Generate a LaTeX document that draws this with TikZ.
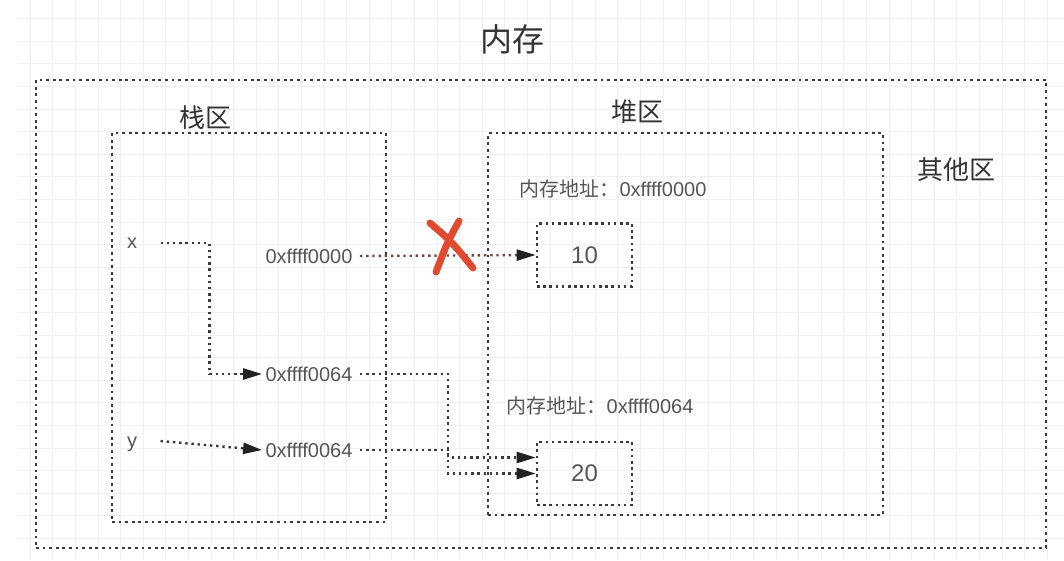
\documentclass[tikz,border=0pt]{standalone}
\usepackage{fontspec}
\setmainfont{Liberation Sans}
\newfontfamily\cjk{Noto Sans CJK SC}
\usetikzlibrary{positioning,arrows.meta}
\definecolor{dotgray}{HTML}{3A3A3A}
\definecolor{tipgray}{HTML}{222222}
\definecolor{txtgray}{HTML}{555555}
\definecolor{crossred}{HTML}{E04A2E}
\definecolor{linkbrown}{HTML}{6E4646}

\begin{document}
\begin{tikzpicture}[x=1pt, y=-1pt,
  gridline/.style={black!6, line width=0.8pt},
  area/.style={draw=dotgray, line width=2.8pt, dash pattern=on 2.8pt off 3.8pt, inner sep=0pt},
  cell/.style={area, line width=2.6pt, dash pattern=on 2.6pt off 3.6pt, minimum width=95pt, minimum height=63pt, text=txtgray, font=\fontsize{24}{28}\selectfont},
  link/.style={dotgray, line width=2.4pt, dash pattern=on 2.4pt off 3.8pt, -{Triangle[length=19pt,width=11pt,color=tipgray]}},
  lab/.style={text=txtgray, font=\fontsize{20}{24}\selectfont},
  head/.style={text=black!80, font=\cjk\fontsize{26}{30}\selectfont}]
  \useasboundingbox (0,0) rectangle (1064,560);
  \foreach \i in {1,...,46}
    \draw[gridline] ({7.5+22.6*\i},0) -- ({7.5+22.6*\i},560);
  \foreach \j in {0,...,23}
    \draw[gridline] (17,{18.5+22.6*\j}) -- (1064,{18.5+22.6*\j});

  \node[head, font=\cjk\fontsize{32}{36}\selectfont] (title) at (512,39) {内存};
  \node[area, minimum width=1010pt, minimum height=468pt] (mem) at (541,314) {};
  \node[area, minimum width=274pt, minimum height=389pt] (stack) at (249,327.5) {};
  \node[area, minimum width=395pt, minimum height=382pt] (heap) at (685.5,324) {};
  \node[head] (stacklab) at (205,118) {栈区};
  \node[head] (heaplab) at (637,112) {堆区};
  \node[head] (otherlab) at (956,170) {其他区};

  \node[cell] (cell10) at (584.5,255) {10};
  \node[cell] (cell20) at (584.5,473.5) {20};
  \node[lab] (addrA) at (613,189) {{\cjk 内存地址：}0xffff0000};
  \node[lab] (addrB) at (600,406) {{\cjk 内存地址：}0xffff0064};

  \node[lab] (xvar) at (132,243) {x};
  \node[lab] (yvar) at (132,444) {y};
  \node[lab] (ptr0) at (309,256) {0xffff0000};
  \node[lab] (ptr1) at (309,374) {0xffff0064};
  \node[lab] (ptr2) at (309,450) {0xffff0064};

  \draw[link] ([xshift=20pt]xvar.east) -- ++(49,0) |- (ptr1.west);
  \draw[link] ([xshift=20pt,yshift=3pt]yvar.east) -- (ptr2.west);
  \draw[link, linkbrown] ([xshift=4pt]ptr0.east) -- (cell10.west);
  \draw[link] ([xshift=4pt]ptr1.east) -- ++(88,0) |- (cell20.west);
  \draw[link] ([xshift=4pt]ptr2.east) -- ++(88,0) |- ([yshift=16pt]cell20.west);

  \draw[crossred, line width=7pt, line cap=round]
    (430,223) .. controls (452,242) .. (473,268)
    (459,221) .. controls (447,243) .. (436,272);
\end{tikzpicture}
\end{document}
